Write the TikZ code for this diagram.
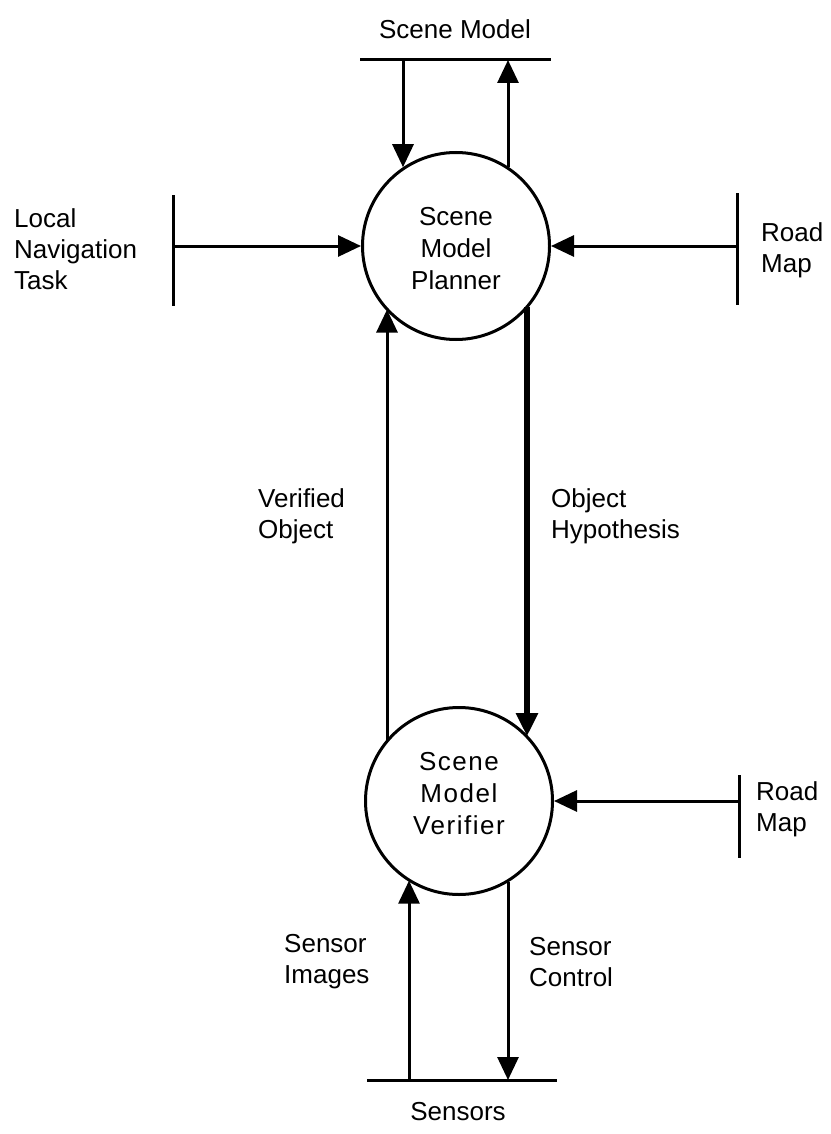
\documentclass[tikz,border=0pt]{standalone}
\usepackage{fontspec}
\setmainfont{Liberation Sans}
\usetikzlibrary{arrows.meta}
\begin{document}
\begin{tikzpicture}[x=1pt,y=-1pt,
  lw/.style={line width=3pt},
  arr/.style={lw,-{Triangle[length=23pt,width=21pt]}},
  thickarr/.style={line width=5.5pt,-{Triangle[length=23pt,width=21pt]}},
  proc/.style={circle,draw,line width=3pt,minimum size=187pt,inner sep=0pt,align=center},
  lbl/.style={align=left,anchor=west,inner sep=0pt,font=\fontsize{26}{31}\selectfont},
  clbl/.style={align=center,inner sep=0pt,font=\fontsize{26}{31}\selectfont}]
\useasboundingbox (0,0) rectangle (830,1134);

% processes
\node[proc] (planner) at (456,246) {};
\node[clbl,font=\fontsize{26}{32}\selectfont] (plannertxt) at (456,249) {Scene\\Model\\Planner};
\node[proc] (verifier) at (459,801) {};
\node[clbl,font=\fontsize{26}{32}\selectfont\addfontfeature{LetterSpace=6}] (verifiertxt) at (459,794) {Scene\\Model\\Verifier};

% stores / terminators
\coordinate (smL) at (360,60); \coordinate (smR) at (551,60);
\draw[lw] (smL) -- (smR);
\node[clbl] (smtxt) at (455,29) {Scene Model};
\coordinate (smA) at (403,60); \coordinate (smB) at (508,60);

\coordinate (lntT) at (173,195); \coordinate (lntB) at (173,306);
\draw[lw] (lntT) -- (lntB);
\coordinate (lnt) at (173,246);
\node[lbl] (lnttxt) at (14,249) {Local\\Navigation\\Task};

\coordinate (rm1T) at (737,193); \coordinate (rm1B) at (737,305);
\draw[lw] (rm1T) -- (rm1B);
\coordinate (rm1) at (737,246);
\node[lbl] (rm1txt) at (761,250) {Road\\Map};

\coordinate (rm2T) at (739,775); \coordinate (rm2B) at (739,858);
\draw[lw] (rm2T) -- (rm2B);
\coordinate (rm2) at (739,801);
\node[lbl] (rm2txt) at (756,809) {Road\\Map};

\coordinate (seL) at (367,1080); \coordinate (seR) at (557,1080);
\draw[lw] (seL) -- (seR);
\node[clbl] (setxt) at (458,1112) {Sensors};
\coordinate (seA) at (409,1080); \coordinate (seB) at (508,1080);

% flows
\draw[arr] (smA) -- (smA |- planner.124.7);
\draw[arr] (smB |- planner.56) -- (smB);
\draw[arr] (lnt) -- (planner.west);
\draw[arr] (rm1) -- (planner.east);
\draw[arr] (rm2) -- (verifier.east);
\coordinate (vo) at (387,0); \coordinate (oh) at (527,0);
\draw[arr] (vo |- verifier.140) -- (vo |- planner.222.1);
\draw[thickarr] (oh |- planner.-40.3) -- (oh |- verifier.43.7);
\draw[arr] (seA) -- (seA |- verifier.237.9);
\draw[arr] (seB |- verifier.-58.6) -- (seB);

% flow labels
\node[lbl] (votxt) at (258,516) {Verified\\Object};
\node[lbl] (ohtxt) at (551,516) {Object\\Hypothesis};
\node[lbl] (sitxt) at (284,962) {Sensor\\Images};
\node[lbl] (sctxt) at (529,962) {Sensor\\Control};
\end{tikzpicture}
\end{document}
